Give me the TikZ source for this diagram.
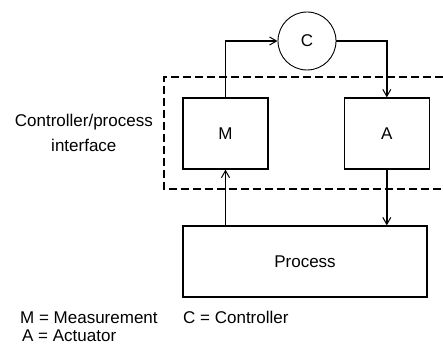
\documentclass[tikz,border=0pt]{standalone}
\usepackage{fontspec}
\setmainfont{Liberation Sans}
\usetikzlibrary{arrows.meta,positioning}

\begin{document}
\begin{tikzpicture}[x=1pt,y=-1pt,node distance=57pt and 75pt,
 blk/.style={draw,line width=1.3pt,minimum width=85pt,minimum height=71pt,inner sep=0pt,font=\fontsize{17}{19}\selectfont},
 ctl/.style={draw,line width=0.9pt,circle,minimum size=58pt,inner sep=0pt,font=\fontsize{17}{19}\selectfont},
 lbl/.style={font=\fontsize{17}{19}\selectfont,inner sep=0pt},
 lin/.style={-{Straight Barb[length=7pt,width=8pt,line width=1pt]},line width=1.5pt},
 itf/.style={line width=1.1pt,dash pattern=on 8pt off 4pt}]
\useasboundingbox (0,0) rectangle (443,353);
\node[ctl] (c) at (307,41) {C};
\node[blk] (m) at (225.5,133.5) {M};
\node[blk,right=of m] (a) {A};
\node[blk,minimum width=244pt] (p) at (305,261.5) {Process};
% dashed interface region, open to the right
\coordinate (itfne) at (443,77);
\coordinate (itfse) at (443,189);
\draw[itf] (itfne) -| (164,189) -- (itfse);
\node[lbl,align=center,anchor=east,font=\fontsize{17}{25}\selectfont] (itfl) at (153,133) {Controller/process\\interface};
% signal path
\draw[lin] (m.north) |- (c.west);
\draw[lin] (c.east) -| (a.north);
\draw[lin] (a.south) -- (a.south |- p.north);
\draw[lin] (m.south |- p.north) -- (m.south);
% legend
\node[lbl,anchor=base west] (leg1) at (20,323) {M = Measurement};
\node[lbl,anchor=base west] (leg2) at (183,323) {C = Controller};
\node[lbl,anchor=base west] (leg3) at (22,341) {A = Actuator};
\end{tikzpicture}
\end{document}
